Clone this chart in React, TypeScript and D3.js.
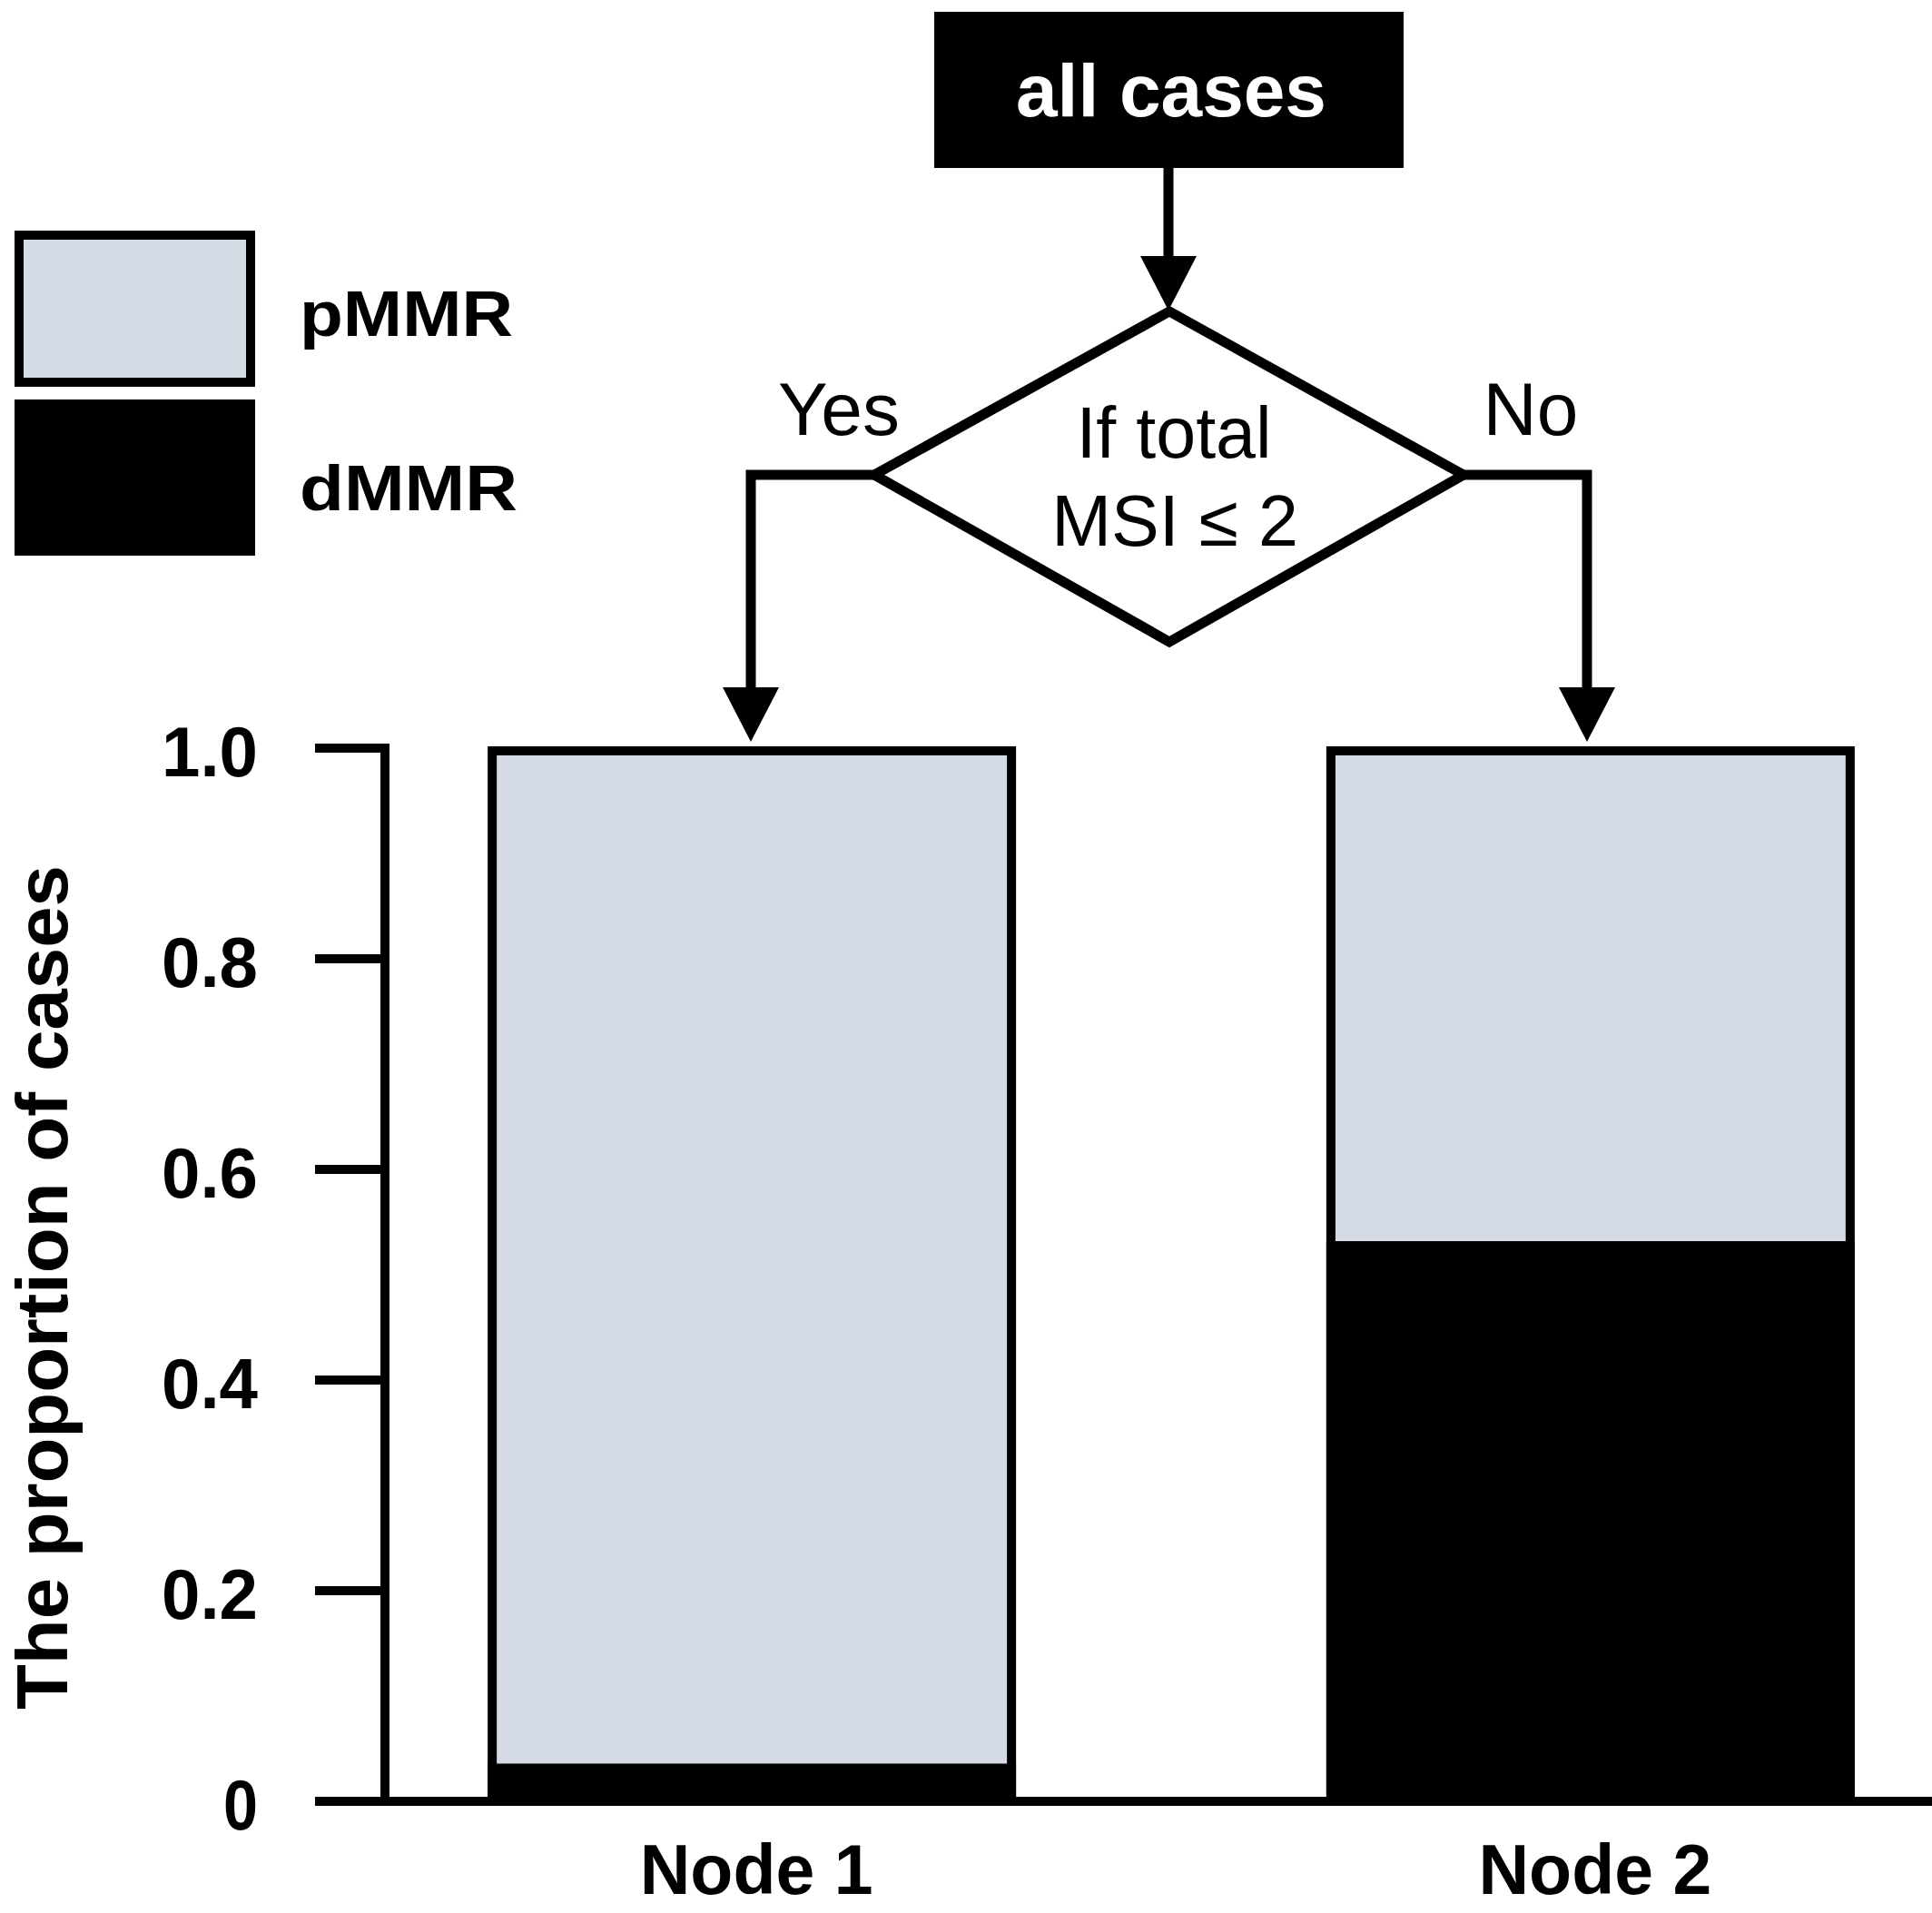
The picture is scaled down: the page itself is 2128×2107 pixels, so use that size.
import { useMemo } from "react";
import * as d3 from "d3";

// Data
const NODES = ["Node 1", "Node 2"];
const DMMR = [0.036, 0.532];
const PMMR = [0.964, 0.468];
const Y_TICKS = [0, 0.2, 0.4, 0.6, 0.8, 1.0];
const Y_TICK_LABELS = ["0", "0.2", "0.4", "0.6", "0.8", "1.0"];
const LEGEND = [
  { key: "pMMR", label: "pMMR" },
  { key: "dMMR", label: "dMMR" },
];

const W = 2128;
const H = 2107;
const FONT = "'Liberation Sans', Arial, Helvetica, sans-serif";
const LIGHT = "#d5dbe5";
const COLORS: Record<string, string> = { pMMR: LIGHT, dMMR: "#000" };

export default function App() {
  const y = useMemo(() => d3.scaleLinear().domain([0, 1]).range([1984, 824]), []);
  const x = useMemo(
    () => d3.scaleBand<string>().domain(NODES).range([430, 2150]).paddingInner(0.37).paddingOuter(0.116),
    []
  );

  const rows = NODES.map((n, i) => ({ node: n, dMMR: DMMR[i], pMMR: PMMR[i] }));
  const series = d3.stack<any>().keys(["dMMR", "pMMR"])(rows);

  const axisX = 424;
  const sw = 10;
  const fw = 11; // flowchart line width

  // flowchart geometry
  const box = { x0: 1029, x1: 1546, y0: 13, y1: 185 };
  const dia = { cx: 1288, cy: 523, top: 343, bottom: 707, left: 963, right: 1612 };
  const leftX = 827;
  const rightX = 1748;
  const headTip = 817;
  const headH = 60;
  const headW = 62;
  const arrowHead = (cx: number, tip: number) =>
    `M${cx - headW / 2},${tip - headH} L${cx + headW / 2},${tip - headH} L${cx},${tip} Z`;

  return (
    <div style={{ position: "absolute", left: 0, top: 0, background: "#fff" }}>
      <svg width={W} height={H} viewBox={`0 0 ${W} ${H}`} style={{ display: "block", fontFamily: FONT }}>
        <rect width={W} height={H} fill="#fff" />

        {/* Legend */}
        {LEGEND.map((l, i) => {
          const y0 = i === 0 ? 254 : 440;
          const h = 172;
          const outlined = l.key === "pMMR";
          return (
            <g key={l.key}>
              <rect
                x={16 + (outlined ? sw / 2 : 0)}
                y={y0 + (outlined ? sw / 2 : 0)}
                width={265 - (outlined ? sw : 0)}
                height={h - (outlined ? sw : 0)}
                fill={COLORS[l.key]}
                stroke={outlined ? "#000" : "none"}
                strokeWidth={sw}
              />
              <text
                x={330}
                y={i === 0 ? 370 : 562}
                fontSize={70}
                fontWeight={700}
                textLength={i === 0 ? 235 : 240}
                lengthAdjust="spacingAndGlyphs"
              >
                {l.label}
              </text>
            </g>
          );
        })}

        {/* Flowchart */}
        <rect x={box.x0} y={box.y0} width={box.x1 - box.x0} height={box.y1 - box.y0} fill="#000" />
        <text x={1290} y={128} fontSize={82} fontWeight={700} fill="#fff" textAnchor="middle">
          all cases
        </text>
        <line x1={1287} x2={1287} y1={box.y1} y2={285} stroke="#000" strokeWidth={fw} />
        <path d={arrowHead(1287, 342)} fill="#000" />

        <polygon
          points={`${dia.cx},${dia.top} ${dia.right},${dia.cy} ${dia.cx},${dia.bottom} ${dia.left},${dia.cy}`}
          fill="#fff"
          stroke="#000"
          strokeWidth={fw}
          strokeLinejoin="miter"
        />
        <text x={1293} y={504} fontSize={79} textAnchor="middle">
          If total
        </text>
        <text x={1294} y={601} fontSize={79} textAnchor="middle">
          MSI ≤ 2
        </text>

        <polyline
          points={`${dia.left},${dia.cy} ${leftX},${dia.cy} ${leftX},${headTip - headH + 2}`}
          fill="none"
          stroke="#000"
          strokeWidth={fw}
          strokeLinejoin="miter"
        />
        <path d={arrowHead(leftX, headTip)} fill="#000" />
        <polyline
          points={`${dia.right},${dia.cy} ${rightX},${dia.cy} ${rightX},${headTip - headH + 2}`}
          fill="none"
          stroke="#000"
          strokeWidth={fw}
          strokeLinejoin="miter"
        />
        <path d={arrowHead(rightX, headTip)} fill="#000" />
        <text x={924} y={479} fontSize={82} textAnchor="middle">
          Yes
        </text>
        <text x={1686} y={479} fontSize={82} textAnchor="middle">
          No
        </text>

        {/* Bars */}
        {series.map((s) => (
          <g key={s.key}>
            {s.map((d, i) => (
              <rect
                key={i}
                x={x(NODES[i])!}
                y={y(d[1])}
                width={x.bandwidth()}
                height={y(d[0]) - y(d[1])}
                fill={COLORS[s.key]}
              />
            ))}
          </g>
        ))}
        {NODES.map((n) => (
          <rect
            key={n}
            x={x(n)! + sw / 2}
            y={y(1) + 3}
            width={x.bandwidth() - sw}
            height={y(0) - y(1) - 3}
            fill="none"
            stroke="#000"
            strokeWidth={sw}
          />
        ))}

        {/* Y axis */}
        <line x1={axisX} x2={axisX} y1={y(1) - sw / 2} y2={y(0) + sw / 2} stroke="#000" strokeWidth={sw} />
        {Y_TICKS.map((t, i) => (
          <g key={t}>
            <line x1={347} x2={axisX} y1={y(t)} y2={y(t)} stroke="#000" strokeWidth={sw} />
            <text
              x={284}
              y={y(t) + 31}
              fontSize={78}
              fontWeight={700}
              textAnchor="end"
              textLength={Y_TICK_LABELS[i].length === 1 ? 38 : 106}
              lengthAdjust="spacingAndGlyphs"
            >
              {Y_TICK_LABELS[i]}
            </text>
          </g>
        ))}
        {/* X axis */}
        <line x1={347} x2={W} y1={y(0)} y2={y(0)} stroke="#000" strokeWidth={sw} />
        {NODES.map((n) => (
          <text key={n} x={x(n)! + x.bandwidth() / 2 + 5} y={2086} fontSize={77} fontWeight={700} textAnchor="middle">
            {n}
          </text>
        ))}

        <text
          transform="translate(74,1418) rotate(-90)"
          fontSize={80}
          fontWeight={700}
          textAnchor="middle"
          textLength={930}
          lengthAdjust="spacingAndGlyphs"
        >
          The proportion of cases
        </text>
      </svg>
    </div>
  );
}
